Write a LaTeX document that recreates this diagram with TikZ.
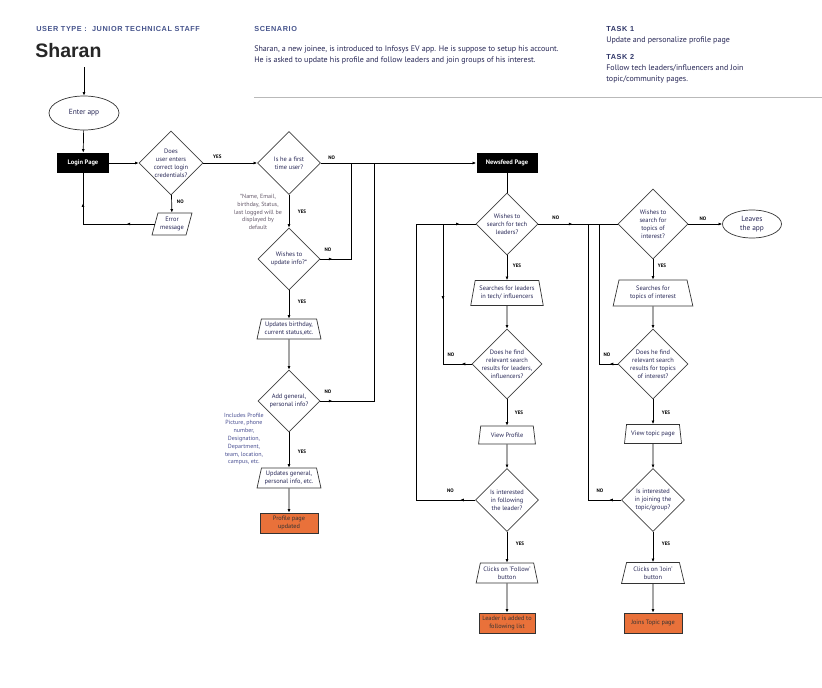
\documentclass[tikz,border=0pt]{standalone}
\usepackage{fontspec}
\setmainfont{PT Sans}
\newfontfamily\headfont[LetterSpace=8]{Liberation Sans}
\newfontfamily\namefont{Liberation Sans}
\usetikzlibrary{shapes.geometric,arrows.meta,decorations.markings}
\definecolor{headblue}{RGB}{70,84,140}
\definecolor{taskblue}{RGB}{48,55,105}
\definecolor{navy}{RGB}{38,38,85}
\definecolor{notegray}{RGB}{100,88,105}
\definecolor{noteblue}{RGB}{72,78,145}
\definecolor{boxorange}{RGB}{233,113,58}
\definecolor{rulegray}{RGB}{185,185,185}

\begin{document}
\begin{tikzpicture}[x=1pt, y=-1pt, >={Latex[length=3.6pt,width=3pt]}, line width=0.7pt,
  dia/.style={diamond, draw=black!75, aspect=1, inner sep=-7pt, minimum size=#1, align=center, text=navy, font=\fontsize{6.4}{8}\selectfont},
  proc/.style={trapezium, trapezium left angle=74, trapezium right angle=74, trapezium stretches=true, draw=black!80, align=center, text=navy, inner sep=0pt, font=\fontsize{6.4}{8}\selectfont},
  page/.style={fill=black, text=white, font=\fontsize{6.5}{7.5}\selectfont\bfseries, minimum width=#1, minimum height=20, inner sep=0pt},
  done/.style={draw=black!80, fill=boxorange, text=black!80, align=center, font=\fontsize{6.3}{7.4}\selectfont, minimum height=20, inner sep=0pt},
  oval/.style={ellipse, draw=black!80, align=center, text=navy, font=\fontsize{7.4}{8.8}\selectfont, inner sep=0pt},
  note/.style={align=center, font=\fontsize{6}{7.8}\selectfont},
  yn/.style={font=\fontsize{5}{5}\selectfont\bfseries, inner sep=1pt},
  head/.style={anchor=base west, inner sep=0pt, font=\headfont\fontsize{7.3}{8}\selectfont\bfseries},
  body/.style={anchor=base west, align=left, inner sep=0pt, text=navy, font=\fontsize{8}{11}\selectfont},
  tip/.style={postaction={decorate, decoration={markings, mark=at position #1 with {\arrow{>}}}}},
  backtip/.style={postaction={decorate, decoration={markings, mark=at position #1 with {\arrowreversed{>}}}}}
]
\useasboundingbox (0,0) rectangle (822,688);

% Header (base anchor of a two-line text is its last line)
\node[head, text=headblue] (usertype) at (36,31.5) {USER TYPE :\ \ JUNIOR TECHNICAL STAFF};
\node[anchor=base west, inner sep=0pt, text=black!85, font=\namefont\fontsize{19.5}{20}\selectfont\bfseries] (persona) at (35,57) {Sharan};
\node[head, text=headblue] (scenhead) at (254,31.5) {SCENARIO};
\node[body] (scentext) at (254,62.5) {Sharan, a new joinee, is introduced to Infosys EV app. He is suppose to setup his account.\\He is asked to update his profile and follow leaders and join groups of his interest.};
\node[head, text=taskblue] (task1head) at (606,31.5) {TASK 1};
\node[body] (task1text) at (606,42.5) {Update and personalize profile page};
\node[head, text=taskblue] (task2head) at (606,59.5) {TASK 2};
\node[body] (task2text) at (606,81.5) {Follow tech leaders/influencers and Join\\topic/community pages.};
\draw[rulegray] (254,97) -- (822,97);

% Login and profile column
\coordinate (top) at (84,67);
\node[oval, minimum width=70, minimum height=34] (enter) at (84,113) {Enter app};
\node[page=52] (login) at (83,163) {Login Page};
\node[dia=64] (cred) at (171,163) {Does\\user enters\\correct login\\credentials?};
\node[trapezium, trapezium left angle=70, trapezium right angle=110, trapezium stretches=true, draw=black!80, align=center, text=navy, inner sep=0pt, minimum width=40, minimum height=22, font=\fontsize{6.4}{8}\selectfont] (err) at (172,224) {Error\\message};
\node[dia=63] (first) at (289,163) {Is he a first\\time user?};
\node[note, text=notegray] (namenote) at (258,212) {*Name, Email,\\birthday, Status,\\last logged will be\\displayed by\\default};
\node[dia=62] (upd) at (289,259) {Wishes to\\update info?*};
\node[proc, minimum width=64, minimum height=20] (bday) at (289,329) {Updates birthday,\\current status,etc.};
\node[dia=62] (addinfo) at (289,401) {Add general,\\personal info?};
\node[note, text=noteblue] (infonote) at (244,439) {Includes Profile\\Picture, phone\\number,\\Designation,\\Department,\\team, location,\\campus, etc.};
\node[proc, minimum width=64, minimum height=20] (general) at (289,478) {Updates general,\\personal info, etc.};
\node[done, minimum width=58] (profile) at (289,523) {Profile page\\updated};

% Leaders column
\node[page=61] (news) at (507,163) {Newsfeed Page};
\node[dia=62] (leadq) at (507,224) {Wishes to\\search for tech\\leaders?};
\node[proc, minimum width=73, minimum height=25] (leadsearch) at (507,293) {Searches for leaders\\in tech/ influencers};
\node[dia=70] (leadfind) at (507,364) {Does he find\\relevant search\\results for leaders,\\influencers?};
\node[proc, minimum width=57, minimum height=18] (viewprof) at (507,435) {View Profile};
\node[dia=63] (followq) at (507,500) {Is interested\\in following\\the leader?};
\node[proc, minimum width=62, minimum height=20] (follow) at (507,573) {Clicks on `Follow'\\button};
\node[done, minimum width=56] (added) at (507,623) {Leader is added to\\following list};

% Topics column
\node[dia=70] (topicq) at (653,224) {Wishes to\\search for\\topics of\\interest?};
\node[oval, minimum width=59, minimum height=28] (leave) at (752,224) {Leaves\\the app};
\node[proc, minimum width=80, minimum height=26] (topicsearch) at (653,293) {Searches for\\topics of interest};
\node[dia=70] (topicfind) at (653,364) {Does he find\\relevant search\\results for topics\\of interest?};
\node[proc, minimum width=57, minimum height=19] (viewtopic) at (653,434) {View topic page};
\node[dia=63] (joinq) at (653,500) {Is interested\\in joining the\\topic/group?};
\node[proc, minimum width=63, minimum height=21] (join) at (653,573) {Clicks on `Join'\\button};
\node[done, minimum width=58] (joined) at (653,623) {Joins Topic page};

% Connectors, login and profile
\draw[->] (top) -- (enter);
\draw[->] (enter) -- (login);
\draw[->] (login) -- (cred);
\draw[->] (cred) -- node[yn, right=4pt, pos=0.4]{NO} (err);
\draw[tip=28pt, tip=-30pt] (err.west) -| (login.south);
\draw[->] (cred) -- node[yn, above=3pt, pos=0.26]{YES} (first);
\draw[->] (first) -- node[yn, above=2pt, pos=0.07]{NO} (news);
\draw[->] (first) -- node[yn, right=7.5pt]{YES} (upd);
\coordinate (skip1) at (351,163);
\draw[tip=12pt] (upd.east) -| node[yn, above=6pt, pos=0.125]{NO} (skip1);
\draw[->] (upd) -- node[yn, right=7.5pt, pos=0.42]{YES} (bday);
\draw[->] (bday) -- (addinfo);
\coordinate (skip2) at (374,163);
\draw[tip=12pt] (addinfo.east) -| node[yn, above=6pt, pos=0.07]{NO} (skip2);
\draw[->] (addinfo) -- node[yn, right=7.5pt, pos=0.55]{YES} (general);
\draw[->] (general) -- (profile);

% Connectors, leaders
\draw (news) -- (leadq);
\draw[->] (leadq) -- node[yn, right=4.5pt, pos=0.42]{YES} (leadsearch);
\draw[->] (leadsearch) -- (leadfind);
\draw[->] (leadfind) -- node[yn, right=6.5pt]{YES} (viewprof);
\draw[->] (viewprof) -- (followq);
\draw[->] (followq) -- node[yn, right=7.5pt, pos=0.4]{YES} (follow);
\draw[->] (follow) -- (added);
\coordinate (back1) at (443,224);
\draw[tip=10pt, backtip=93pt] (leadfind.west) -| node[yn, above=6pt, pos=0.36]{NO} (back1);
\draw[tip=15pt, tip=-16pt] (followq.west) -- node[yn, above=6pt, pos=0.42]{NO} ++(-59,0) |- (leadq.west);

% Connectors, topics
\draw[tip=34pt] (leadq) -- node[yn, above=3pt, pos=0.22]{NO} (topicq);
\draw[->] (topicq) -- node[yn, above=2pt, pos=0.43]{NO} (leave);
\draw[->] (topicq) -- node[yn, right=3.5pt, pos=0.3]{YES} (topicsearch);
\draw[->] (topicsearch) -- (topicfind);
\draw[->] (topicfind) -- node[yn, right=7.5pt, pos=0.55]{YES} (viewtopic);
\draw[->] (viewtopic) -- (joinq);
\draw[->] (joinq) -- node[yn, right=7.5pt, pos=0.38]{YES} (join);
\draw[->] (join) -- (joined);
\coordinate (back3) at (599,224);
\draw[tip=8pt] (topicfind.west) -| node[yn, above=6pt, pos=0.29]{NO} (back3);
\coordinate (back4) at (588,224);
\draw[tip=12pt] (joinq.west) -| node[yn, above=6pt, pos=0.32]{NO} (back4);

\end{tikzpicture}
\end{document}
